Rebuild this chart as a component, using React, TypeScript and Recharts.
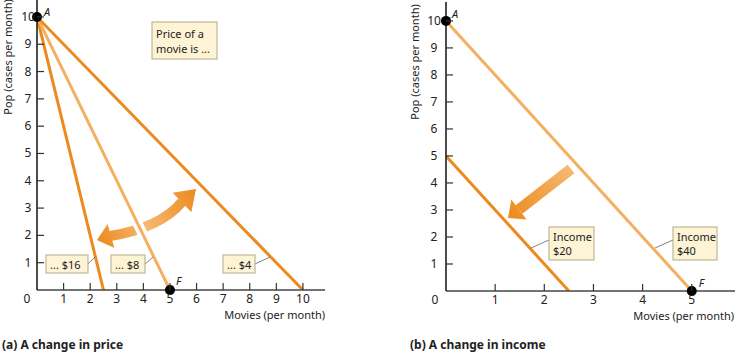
import { LineChart, Line, XAxis, YAxis, ReferenceDot } from 'recharts';

// (a) budget lines for three movie prices: movies affordable / pop affordable
const priceLabels = ['... $16', '... $8', '... $4'];
const moviesAtPrice = [2.5, 5, 10];
const popAtPrice = [10, 10, 10];

// (b) budget lines for two incomes
const incomeLabels = ['Income $20', 'Income $40'];
const moviesAtIncome = [2.5, 5];
const popAtIncome = [5, 10];

const xTicksA = [0, 1, 2, 3, 4, 5, 6, 7, 8, 9, 10];
const yTicksA = [1, 2, 3, 4, 5, 6, 7, 8, 9, 10];
const xTicksB = [0, 1, 2, 3, 4, 5];
const yTicksB = [1, 2, 3, 4, 5, 6, 7, 8, 9, 10];

const pointA = { x: 0, y: 10, label: 'A' };
const pointF = { x: 5, y: 0, label: 'F' };

const DARK = '#EC8A1E';
const LIGHT = '#F5AF60';
const FONT = '"Noto Sans", sans-serif';
const priceColors = [DARK, LIGHT, DARK];
const incomeColors = [DARK, LIGHT];

const budgetLine = (movies: number, pop: number) => [
  { x: 0, y: pop },
  { x: movies, y: 0 },
];

const makeXTick = (zeroShift: number) => (props: any) => {
  const { x, y, payload } = props;
  if (payload.value === 0) {
    return (
      <text x={x + zeroShift} y={y + 13} textAnchor="middle" fontSize={12} fontFamily={FONT} fill="#222">
        0
      </text>
    );
  }
  return (
    <g>
      <line x1={x} x2={x} y1={y} y2={y - 7} stroke="#333" strokeWidth={1.2} />
      <text x={x} y={y + 13} textAnchor="middle" fontSize={12} fontFamily={FONT} fill="#222">
        {payload.value}
      </text>
    </g>
  );
};

const makeYTick = (labelShift: number) => (props: any) => {
  const { x, y, payload } = props;
  return (
    <g>
      <line x1={x} x2={x + 7} y1={y} y2={y} stroke="#333" strokeWidth={1.2} />
      <text x={x - labelShift} y={y + 4} textAnchor="middle" fontSize={12} fontFamily={FONT} fill="#222">
        {payload.value}
      </text>
    </g>
  );
};

const dotShape = (label: string, dx: number, dy: number) => (props: any) => {
  const { cx, cy } = props;
  return (
    <g>
      <circle cx={cx} cy={cy} r={5} fill="#000" />
      <text x={cx + dx} y={cy + dy} fontSize={11} fontStyle="italic" fontFamily={FONT} fill="#222">
        {label}
      </text>
    </g>
  );
};

function head(tx: number, ty: number, bx: number, by: number, hw: number) {
  const dx = tx - bx;
  const dy = ty - by;
  const len = Math.hypot(dx, dy);
  const px = (-dy / len) * hw;
  const py = (dx / len) * hw;
  return `${tx},${ty} ${bx + px},${by + py} ${bx - px},${by - py}`;
}

function Box({ x, y, w, h, lines, lead, first = 13.5, gap = 15 }: { x: number; y: number; w: number; h: number; lines: string[]; lead?: number[]; first?: number; gap?: number }) {
  return (
    <g>
      {lead && <line x1={lead[0]} y1={lead[1]} x2={lead[2]} y2={lead[3]} stroke="#666" strokeWidth={0.8} />}
      <rect x={x} y={y} width={w} height={h} fill="#FDF3D5" stroke="#B3A886" strokeWidth={1} />
      {lines.map((t, i) => (
        <text key={i} x={x + 4} y={y + first + i * gap} fontSize={11} fontFamily={FONT} fill="#222">
          {t}
        </text>
      ))}
    </g>
  );
}

export default function App() {
  const axisA = { stroke: '#111', strokeWidth: 1.5 };
  const axisX = { stroke: '#444', strokeWidth: 1.5 };
  return (
    <div style={{ position: 'absolute', left: 0, top: 0, width: 735, height: 353, background: '#fff', overflow: 'hidden' }}>
      {/* arrows sit under the charts so the budget lines cross over them */}
      <svg width={735} height={353} style={{ position: 'absolute', left: 0, top: 0 }}>
        <defs>
          <linearGradient id="gA" gradientUnits="userSpaceOnUse" x1={97} y1={240} x2={196} y2={189}>
            <stop offset="0" stopColor={DARK} />
            <stop offset="0.45" stopColor="#F6B870" />
            <stop offset="1" stopColor={DARK} />
          </linearGradient>
          <linearGradient id="gB" gradientUnits="userSpaceOnUse" x1={571} y1={169} x2={508} y2={218}>
            <stop offset="0" stopColor="#F6B870" />
            <stop offset="1" stopColor={DARK} />
          </linearGradient>
        </defs>
        <path d="M110,236 Q160,228 182,202" fill="none" stroke="url(#gA)" strokeWidth={10} />
        <polygon points={head(97, 240, 111, 236, 12.5)} fill="url(#gA)" />
        <polygon points={head(196, 189, 182, 202.5, 13.5)} fill="url(#gA)" />
        <line x1={132} y1={212} x2={150.5} y2={250} stroke="#fff" strokeWidth={10} />
        <line x1={571} y1={169} x2={519} y2={209.5} stroke="url(#gB)" strokeWidth={11} />
        <polygon points={head(508, 218, 519, 209.5, 12.5)} fill="url(#gB)" />
      </svg>

      <div style={{ position: 'absolute', left: 0, top: 0 }}>
        <LineChart width={340} height={353} margin={{ top: 0, right: 15, bottom: 33, left: 7 }}>
          <XAxis
            type="number"
            dataKey="x"
            domain={[0, 10.83]}
            ticks={xTicksA}
            interval={0}
            allowDataOverflow
            tick={makeXTick(-10)}
            tickLine={false}
            tickSize={0}
            tickMargin={0}
            axisLine={axisX}
            height={30}
          />
          <YAxis
            type="number"
            dataKey="y"
            domain={[0, 10.62]}
            ticks={yTicksA}
            interval={0}
            allowDataOverflow
            tick={makeYTick(9)}
            tickLine={false}
            tickSize={0}
            tickMargin={0}
            axisLine={axisA}
            width={30}
          />
          {priceLabels.map((name, i) => (
            <Line
              key={name}
              name={name}
              data={budgetLine(moviesAtPrice[i], popAtPrice[i])}
              dataKey="y"
              type="linear"
              stroke={priceColors[i]}
              strokeWidth={3}
              dot={false}
              isAnimationActive={false}
            />
          ))}
          <ReferenceDot x={pointA.x} y={pointA.y} r={5} ifOverflow="visible" shape={dotShape(pointA.label, 7, -1)} />
          <ReferenceDot x={pointF.x} y={pointF.y} r={5} ifOverflow="visible" shape={dotShape(pointF.label, 6, -5)} />
        </LineChart>
      </div>

      <div style={{ position: 'absolute', left: 400, top: 0 }}>
        <LineChart width={335} height={353} margin={{ top: 2, right: 0, bottom: 32, left: 16 }}>
          <XAxis
            type="number"
            dataKey="x"
            domain={[0, 5.88]}
            ticks={xTicksB}
            interval={0}
            allowDataOverflow
            tick={makeXTick(-11)}
            tickLine={false}
            tickSize={0}
            tickMargin={0}
            axisLine={axisX}
            height={30}
          />
          <YAxis
            type="number"
            dataKey="y"
            domain={[0, 10.7]}
            ticks={yTicksB}
            interval={0}
            allowDataOverflow
            tick={makeYTick(12)}
            tickLine={false}
            tickSize={0}
            tickMargin={0}
            axisLine={axisA}
            width={30}
          />
          {incomeLabels.map((name, i) => (
            <Line
              key={name}
              name={name}
              data={budgetLine(moviesAtIncome[i], popAtIncome[i])}
              dataKey="y"
              type="linear"
              stroke={incomeColors[i]}
              strokeWidth={3}
              dot={false}
              isAnimationActive={false}
            />
          ))}
          <ReferenceDot x={pointA.x} y={pointA.y} r={5} ifOverflow="visible" shape={dotShape(pointA.label, 6, -3)} />
          <ReferenceDot x={pointF.x} y={pointF.y} r={5} ifOverflow="visible" shape={dotShape(pointF.label, 7, -4)} />
        </LineChart>
      </div>

      {/* labels and callouts */}
      <svg width={735} height={353} style={{ position: 'absolute', left: 0, top: 0, pointerEvents: 'none' }}>
        <g fontFamily={FONT} fontSize={11} fill="#222">
          <text transform="translate(12,57) rotate(-90)" textAnchor="middle">Pop (cases per month)</text>
          <text transform="translate(419,62) rotate(-90)" textAnchor="middle">Pop (cases per month)</text>
          <text x={325} y={319} textAnchor="end">Movies (per month)</text>
          <text x={734} y={320} textAnchor="end">Movies (per month)</text>
          <text x={2} y={349} fontSize={12} fontWeight="bold">(a) A change in price</text>
          <text x={410} y={349} fontSize={12} fontWeight="bold">(b) A change in income</text>
        </g>
        <Box x={152} y={22} w={65} h={37} lines={['Price of a', 'movie is ...']} first={16} gap={15} />
        <Box x={46} y={255} w={42} h={18} lines={[priceLabels[0]]} lead={[88, 264, 95, 257]} />
        <Box x={111} y={255} w={34} h={18} lines={[priceLabels[1]]} lead={[145, 264, 153, 257]} />
        <Box x={223} y={255} w={32} h={18} lines={[priceLabels[2]]} lead={[255, 264, 270, 257]} />
        <Box x={549} y={227} w={45} h={33} lines={incomeLabels[0].split(' ')} lead={[549, 240, 531, 248]} first={14} gap={14} />
        <Box x={673} y={227} w={44} h={33} lines={incomeLabels[1].split(' ')} lead={[673, 240, 655, 248]} first={14} gap={14} />
      </svg>
    </div>
  );
}
